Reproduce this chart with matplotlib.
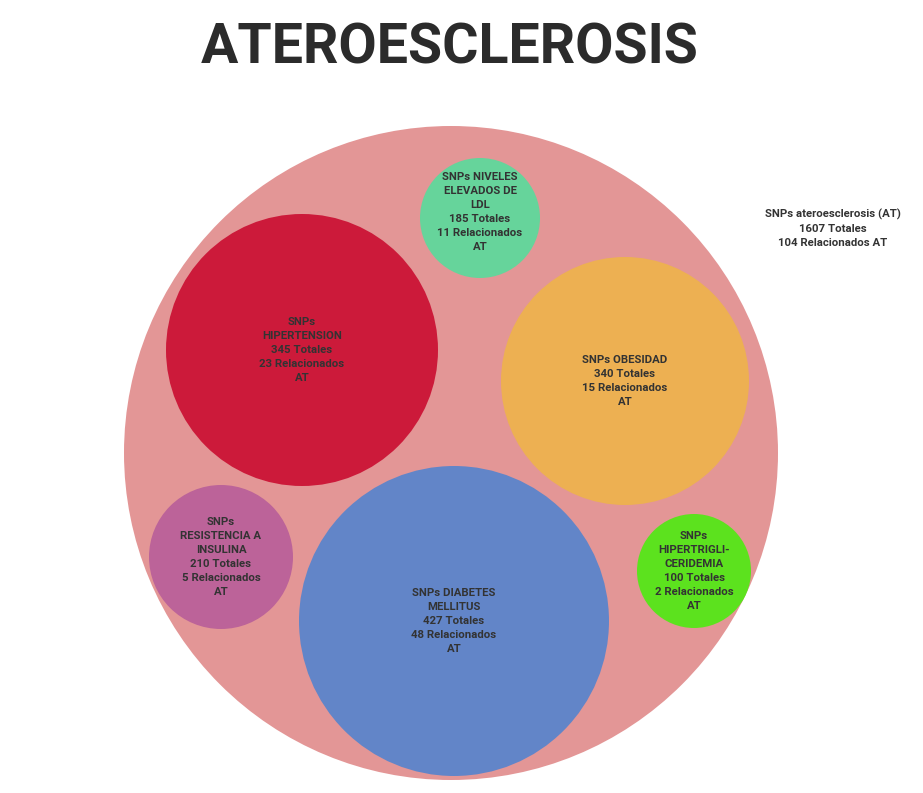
import matplotlib
matplotlib.use("Agg")
import matplotlib.pyplot as plt
from matplotlib.patches import Circle

# ---- data ----
title = "ATEROESCLEROSIS"
parent_name = "SNPs ateroesclerosis (AT)"
parent_total = 1607
parent_related = 104

names = ["SNPs\nHIPERTENSION", "SNPs OBESIDAD", "SNPs NIVELES\nELEVADOS DE\nLDL",
         "SNPs\nRESISTENCIA A\nINSULINA", "SNPs DIABETES\nMELLITUS",
         "SNPs\nHIPERTRIGLI-\nCERIDEMIA"]
totals = [345, 340, 185, 210, 427, 100]
related = [23, 15, 11, 5, 48, 2]

# ---- layout (pixel coordinates) ----
parent_center = (451, 453)
parent_radius = 327
centers = [(302, 350), (625, 381), (480, 218), (221, 557), (454, 621), (694, 571)]
text_offsets = [0, 0, -6, 0, 0, 0]
radii = [136, 124, 60, 72, 155, 57]
colors = ["#CC1A3A", "#EDB052", "#66D49B", "#BC6399", "#6285C8", "#5CE21E"]
parent_color = "#E39696"
text_color = "#333333"

W, H = 923, 793
fig = plt.figure(figsize=(W / 100, H / 100), dpi=100)
ax = fig.add_axes([0, 0, 1, 1])
ax.set_xlim(0, W)
ax.set_ylim(H, 0)
ax.set_aspect("equal")
ax.axis("off")

ax.add_patch(Circle(parent_center, parent_radius, facecolor=parent_color, edgecolor="none"))

for n, t, r, c, dy, rad, col in zip(names, totals, related, centers, text_offsets, radii, colors):
    ax.add_patch(Circle(c, rad, facecolor=col, edgecolor="none"))
    label = f"{n}\n{t} Totales\n{r} Relacionados\nAT"
    ax.text(c[0], c[1] + dy, label, ha="center", va="center", fontsize=8.2,
            fontfamily="Roboto", fontweight="bold", color=text_color,
            linespacing=1.5)

ax.text(833, 228, f"{parent_name}\n{parent_total} Totales\n{parent_related} Relacionados AT",
        ha="center", va="center", fontsize=8.2, fontfamily="Roboto",
        fontweight="bold", color=text_color, linespacing=1.5)

ax.text(450, 49, title, ha="center", va="center", fontsize=40,
        fontfamily="Roboto", fontweight="bold", color="#2B2B2B")

fig.savefig("out.png", dpi=100)
